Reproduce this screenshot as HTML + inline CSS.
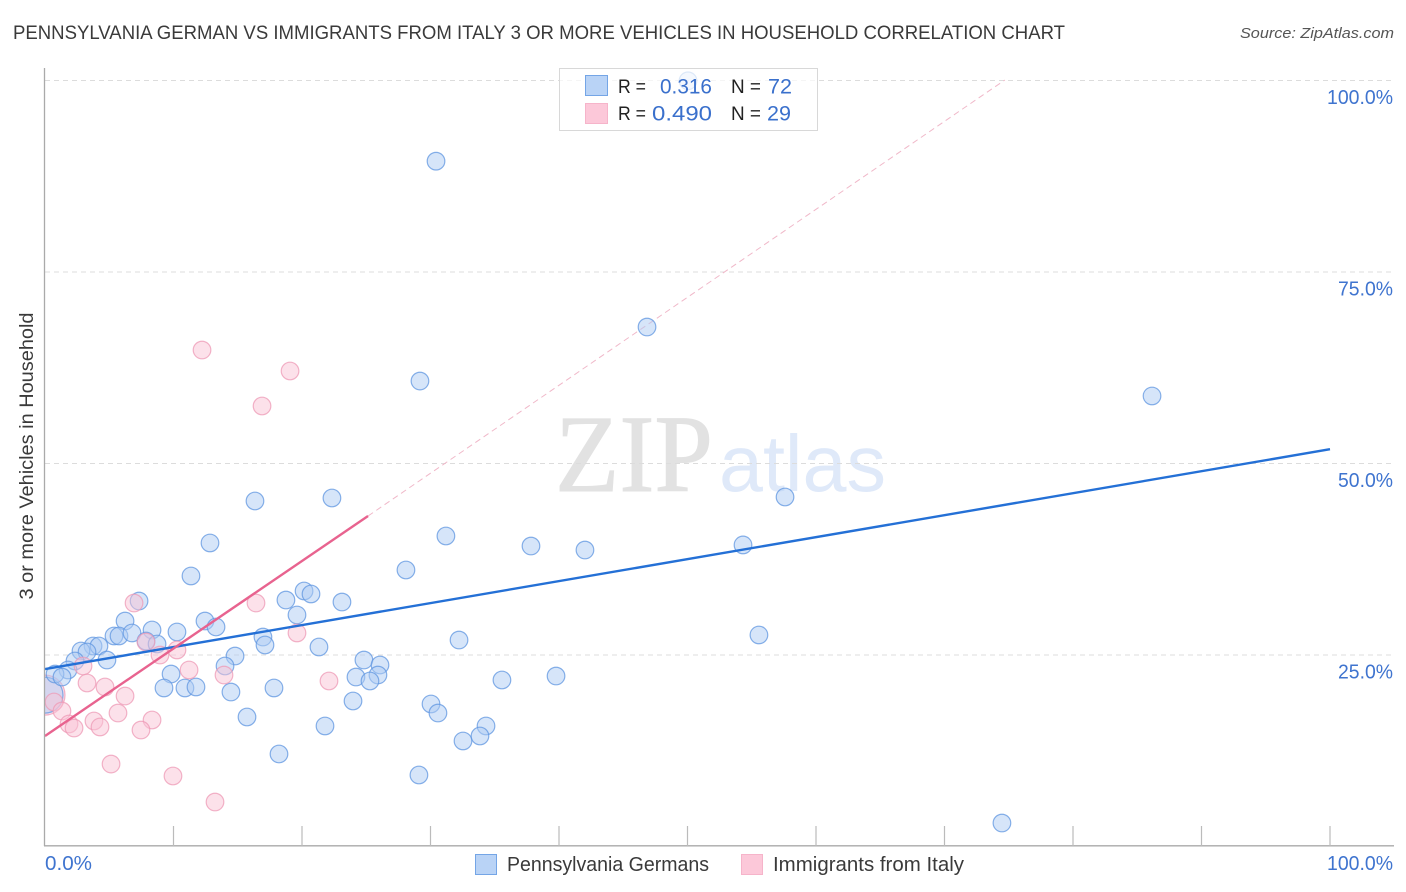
<!DOCTYPE html>
<html lang="en">
<head>
<meta charset="utf-8">
<title>Pennsylvania German vs Immigrants from Italy chart</title>
<style>
html,body{margin:0;padding:0;background:#fff;width:1406px;height:892px;overflow:hidden}
svg{display:block}
text{font-family:"Liberation Sans",sans-serif}
</style>
</head>
<body>
<svg id="chart" xmlns="http://www.w3.org/2000/svg" width="1406" height="892" viewBox="0 0 1406 892">
  <defs>
    <clipPath id="plot-clip"><rect x="45" y="60" width="1350" height="786"/></clipPath>
  </defs>
  <rect x="0" y="0" width="1406" height="892" fill="#fff"/>
  <text x="13" y="39" font-size="19" fill="#3a3a3a" textLength="1052" lengthAdjust="spacingAndGlyphs">PENNSYLVANIA GERMAN VS IMMIGRANTS FROM ITALY 3 OR MORE VEHICLES IN HOUSEHOLD CORRELATION CHART</text>
  <text x="1394" y="38" font-size="15" font-style="italic" fill="#555" text-anchor="end" textLength="154" lengthAdjust="spacingAndGlyphs">Source: ZipAtlas.com</text>

  <g>
    <text x="555" y="491" font-size="110" fill="#e2e2e2" stroke="#e2e2e2" stroke-width="1" textLength="158" lengthAdjust="spacingAndGlyphs" style="font-family:'Liberation Serif',serif">ZIP</text>
    <text x="719" y="491" font-size="80" fill="#dfe9f9" textLength="167" lengthAdjust="spacingAndGlyphs">atlas</text>
  </g>

  <g id="grid"></g>
  <g id="trend-under"></g>
  <g id="points" clip-path="url(#plot-clip)"></g>
  <g id="trend"></g>
  <g id="axes"></g>

  <text transform="translate(33,456) rotate(-90)" font-size="19" fill="#3a3a3a" text-anchor="middle" textLength="287" lengthAdjust="spacingAndGlyphs">3 or more Vehicles in Household</text>

  <g>
    <rect x="559.5" y="68.5" width="258" height="62" fill="#fff" fill-opacity="0.72" stroke="#d8d8d8"/>
    <rect x="585.5" y="75.5" width="22" height="20" fill="#b9d3f6" stroke="#74a5e6"/>
    <rect x="585.5" y="103.5" width="22" height="20" fill="#fcc8d9" stroke="#f6b4ca"/>
    <text x="618" y="93" font-size="19" fill="#222" textLength="28" lengthAdjust="spacingAndGlyphs">R =</text>
    <text x="660" y="93.5" font-size="21" fill="#3a70cc" textLength="52" lengthAdjust="spacingAndGlyphs">0.316</text>
    <text x="731" y="93" font-size="19" fill="#222" textLength="30" lengthAdjust="spacingAndGlyphs">N =</text>
    <text x="768" y="93.5" font-size="21" fill="#3a70cc" textLength="24" lengthAdjust="spacingAndGlyphs">72</text>
    <text x="618" y="120" font-size="19" fill="#222" textLength="28" lengthAdjust="spacingAndGlyphs">R =</text>
    <text x="652" y="120.5" font-size="21" fill="#3a70cc" textLength="60" lengthAdjust="spacingAndGlyphs">0.490</text>
    <text x="731" y="120" font-size="19" fill="#222" textLength="30" lengthAdjust="spacingAndGlyphs">N =</text>
    <text x="767" y="120.5" font-size="21" fill="#3a70cc" textLength="24" lengthAdjust="spacingAndGlyphs">29</text>
  </g>

  <g>
    <rect x="475.5" y="854.5" width="21" height="20" fill="#b9d3f6" stroke="#74a5e6"/>
    <text x="507" y="871" font-size="20" fill="#3a3a3a" textLength="202" lengthAdjust="spacingAndGlyphs">Pennsylvania Germans</text>
    <rect x="741.5" y="854.5" width="21" height="20" fill="#fcc8d9" stroke="#f6b4ca"/>
    <text x="773" y="871" font-size="20" fill="#3a3a3a" textLength="191" lengthAdjust="spacingAndGlyphs">Immigrants from Italy</text>
  </g>
</svg>
<script>
const blueX = [50.04,30.43,46.85,29.18,86.15,16.34,22.33,57.59,12.84,31.2,37.82,42.02,54.32,28.09,11.36,20.16,20.7,18.75,23.11,7.32,19.61,6.23,12.45,13.31,8.33,10.27,55.56,5.37,5.76,6.77,16.96,17.12,7.86,8.72,32.22,21.32,3.74,4.2,2.8,3.27,4.82,14.79,24.82,2.33,1.79,0.78,1.32,14.01,26.07,9.81,25.91,24.2,25.29,35.56,39.77,9.26,10.89,11.75,17.82,14.47,23.97,30.04,30.58,15.72,21.79,34.32,32.53,33.85,18.21,29.1,74.47];
const blueY = [99.9,89.4,67.75,60.7,58.75,45.04,45.43,45.56,39.56,40.47,39.16,38.64,39.3,36.03,35.25,33.29,32.9,32.11,31.85,31.98,30.16,29.37,29.37,28.59,28.2,27.94,27.55,27.42,27.42,27.81,27.28,26.24,26.76,26.37,26.89,25.98,26.11,26.11,25.46,25.33,24.28,24.8,24.28,24.15,22.98,22.45,22.06,23.5,23.63,22.45,22.32,22.06,21.54,21.67,22.19,20.63,20.63,20.76,20.63,20.1,18.93,18.54,17.36,16.84,15.67,15.67,13.71,14.36,12.01,9.27,3.0];
const pinkX = [12.22,19.07,16.89,6.93,16.42,19.61,10.27,7.86,8.95,2.96,11.21,13.93,22.1,3.27,4.67,6.23,0.7,1.32,5.68,3.81,8.33,1.87,2.26,4.28,7.47,5.14,9.96,13.23];
const pinkY = [64.75,62.01,57.44,31.72,31.72,27.81,25.59,26.63,24.93,23.5,22.98,22.32,21.54,21.28,20.76,19.58,18.8,17.62,17.36,16.32,16.45,15.93,15.4,15.54,15.14,10.7,9.14,5.74];
const largeBlueX = [0];
const largeBlueY = [19.7];
const largePinkX = [0];
const largePinkY = [19.7];
const blueTrendX = [0,100];
const blueTrendY = [23.1,51.8];
const pinkTrendX = [0,25.14];
const pinkTrendY = [14.36,43.08];
const pinkExtensionX = [25.14,74.7];
const pinkExtensionY = [43.08,100];
const yTicks = [25,50,75,100];
const yTickLabels = ["25.0%","50.0%","75.0%","100.0%"];
const xTicks = [10,20,30,40,50,60,70,80,90,100];
const xEndTicks = [0,100];
const xEndLabels = ["0.0%","100.0%"];

const NS = "http://www.w3.org/2000/svg";
function xScale(v){ return 45 + v * 12.85; }
function yScale(v){ return 846 - v * 7.66; }
function make(parent, tag, attrs){
  const el = document.createElementNS(NS, tag);
  for (const k in attrs) el.setAttribute(k, attrs[k]);
  parent.appendChild(el);
  return el;
}
const gridG = document.getElementById("grid");
const axesG = document.getElementById("axes");
const pointsG = document.getElementById("points");
const trendG = document.getElementById("trend");
const underG = document.getElementById("trend-under");

yTicks.forEach(function(t, i){
  const line = make(gridG, "line", {x1:45, x2:1393, y1:yScale(t)+0.5, y2:yScale(t)+0.5, stroke:"#dcdcdc", "stroke-width":1, "stroke-dasharray":"5 4"});
  
  
  const label = make(axesG, "text", {x:1393, y:yScale(t)+24, "font-size":20, fill:"#3f74cf", "text-anchor":"end", textLength:yTickLabels[i].length * 11, lengthAdjust:"spacingAndGlyphs"});
  
  
  label.textContent = yTickLabels[i];
});

const yAxis = make(axesG, "line", {x1:44.5, x2:44.5, y1:68, y2:846, stroke:"#aaa", "stroke-width":1.3});


const xAxis = make(axesG, "line", {x1:44, x2:1394, y1:845.8, y2:845.8, stroke:"#aaa", "stroke-width":1.3});



xTicks.forEach(function(t){
  const tick = make(axesG, "line", {x1:xScale(t), x2:xScale(t), y1:826, y2:846, stroke:"#bbb", "stroke-width":1.2});
  
  
});
xEndTicks.forEach(function(t, i){
  const label = make(axesG, "text", {x:i === 0 ? xScale(t) : 1393, y:870, "font-size":20, fill:"#3f74cf", "text-anchor":i === 0 ? "start" : "end", textLength:xEndLabels[i].length * 11 + (i === 0 ? 3 : 0), lengthAdjust:"spacingAndGlyphs"});
  
  
  label.textContent = xEndLabels[i];
});

function drawPoints(xs, ys, r, fill, stroke, name){
  xs.forEach(function(x, i){
    const c = make(pointsG, "circle", {cx:xScale(x), cy:yScale(ys[i]), r:r, fill:fill, "fill-opacity":0.5, stroke:stroke, "stroke-opacity":0.75, "stroke-width":1.2});
    
    
  });
}
drawPoints(largePinkX, largePinkY, 20, "#f9c4d6", "#ee9ab5", "pink-point-large");
drawPoints(largeBlueX, largeBlueY, 18, "#aecbf4", "#5f96e0", "blue-point-large");
drawPoints(blueX, blueY, 8.8, "#aecbf4", "#5f96e0", "blue-point");
drawPoints(pinkX, pinkY, 8.8, "#f9c4d6", "#ee9ab5", "pink-point");

const ext = make(underG, "line", {x1:xScale(pinkExtensionX[0]), y1:yScale(pinkExtensionY[0]), x2:xScale(pinkExtensionX[1]), y2:yScale(pinkExtensionY[1]), stroke:"#f0b8c9", "stroke-width":1, "stroke-dasharray":"6 4"});


const blueLine = make(trendG, "line", {x1:xScale(blueTrendX[0]), y1:yScale(blueTrendY[0]), x2:xScale(blueTrendX[1]), y2:yScale(blueTrendY[1]), stroke:"#2470d6", "stroke-width":2.4});


const pinkLine = make(trendG, "line", {x1:xScale(pinkTrendX[0]), y1:yScale(pinkTrendY[0]), x2:xScale(pinkTrendX[1]), y2:yScale(pinkTrendY[1]), stroke:"#e8638f", "stroke-width":2.4});


</script>
</body>
</html>
